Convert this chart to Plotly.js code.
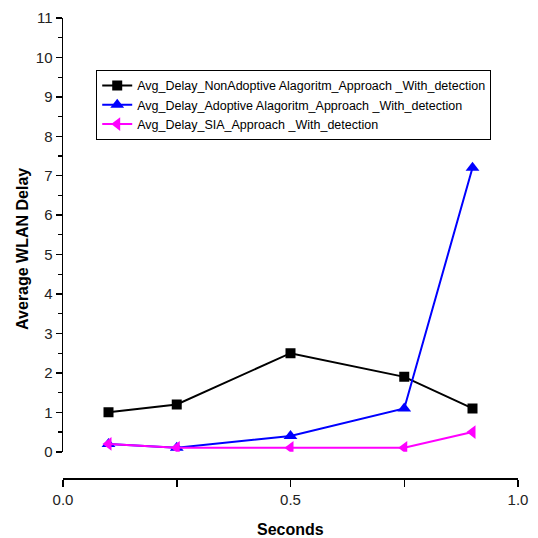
<!DOCTYPE html>
<html>
<head>
<meta charset="utf-8">
<script src="https://cdn.plot.ly/plotly-3.0.1.min.js"></script>
<style>html,body{margin:0;padding:0;background:#fff;}#chart{width:538px;height:538px;}</style>
</head>
<body>
<div id="chart"></div>
<script>
const seconds = [0.1, 0.25, 0.5, 0.75, 0.9];
const nonAdaptive = [1.0, 1.2, 2.5, 1.9, 1.1];
const adaptive = [0.2, 0.1, 0.4, 1.1, 7.2];
const sia = [0.2, 0.1, 0.1, 0.1, 0.5];
const seriesNames = [
  "Avg_Delay_NonAdoptive Alagoritm_Approach _With_detection",
  "Avg_Delay_Adoptive Alagoritm_Approach _With_detection",
  "Avg_Delay_SIA_Approach _With_detection"
];
const xTickVals = [0, 0.25, 0.5, 0.75, 1.0];
const xTickText = ["0.0", "", "0.5", "", "1.0"];
const yTickVals = [0,1,2,3,4,5,6,7,8,9,10,11];

const font = "Liberation Sans";

const traces = [
  {x: seconds, y: nonAdaptive, name: seriesNames[0], mode: "lines+markers",
   line: {color: "#000000", width: 2}, marker: {symbol: "square", size: 10, color: "#000000"}},
  {x: seconds, y: adaptive, name: seriesNames[1], mode: "lines+markers",
   line: {color: "#0000ff", width: 2}, marker: {symbol: "triangle-up", size: 12, color: "#0000ff"}},
  {x: seconds, y: sia, name: seriesNames[2], mode: "lines+markers",
   line: {color: "#ff00ff", width: 2}, marker: {symbol: "triangle-left", size: 12, color: "#ff00ff"}}
];

const layout = {
  width: 538, height: 538,
  margin: {l: 63, r: 20, t: 18, b: 60},
  paper_bgcolor: "#fff", plot_bgcolor: "#fff",
  showlegend: true,
  legend: {x: 0.073, y: 0.887, xanchor: "left", yanchor: "top",
    bordercolor: "#000", borderwidth: 1, bgcolor: "#fff",
    font: {family: font, size: 12.5, color: "#000"}, tracegroupgap: 0,
    itemwidth: 30},
  xaxis: {range: [0, 1], anchor: "free", position: 0,
    tickmode: "array", tickvals: xTickVals, ticktext: xTickText,
    showgrid: false, zeroline: false, showline: true, linecolor: "#000", linewidth: 1.5,
    ticks: "outside", ticklen: 7, tickwidth: 1.5, tickcolor: "#000",
    tickfont: {family: font, size: 15, color: "#222"}},
  yaxis: {range: [0, 11], domain: [0.057, 1],
    tickmode: "array", tickvals: yTickVals,
    showgrid: false, zeroline: false, showline: true, linecolor: "#000", linewidth: 1.5,
    ticks: "outside", ticklen: 6, tickwidth: 1.5, tickcolor: "#000",
    minor: {tickmode: "linear", tick0: 0.5, dtick: 1, ticks: "outside", ticklen: 4, tickwidth: 1.2, tickcolor: "#000", showgrid: false},
    tickfont: {family: font, size: 15, color: "#222"}},
  annotations: [
    {text: "<b>Seconds</b>", xref: "paper", yref: "paper", x: 0.5, y: -0.113,
     xanchor: "center", yanchor: "middle", showarrow: false,
     font: {family: font, size: 16, color: "#000"}},
    {text: "<b>Average WLAN Delay</b>", xref: "paper", yref: "paper", x: -0.088, y: 0.498,
     xanchor: "center", yanchor: "middle", textangle: -90, showarrow: false,
     font: {family: font, size: 16, color: "#000"}}
  ]
};

Plotly.newPlot("chart", traces, layout, {displayModeBar: false, staticPlot: true});
</script>
</body>
</html>
